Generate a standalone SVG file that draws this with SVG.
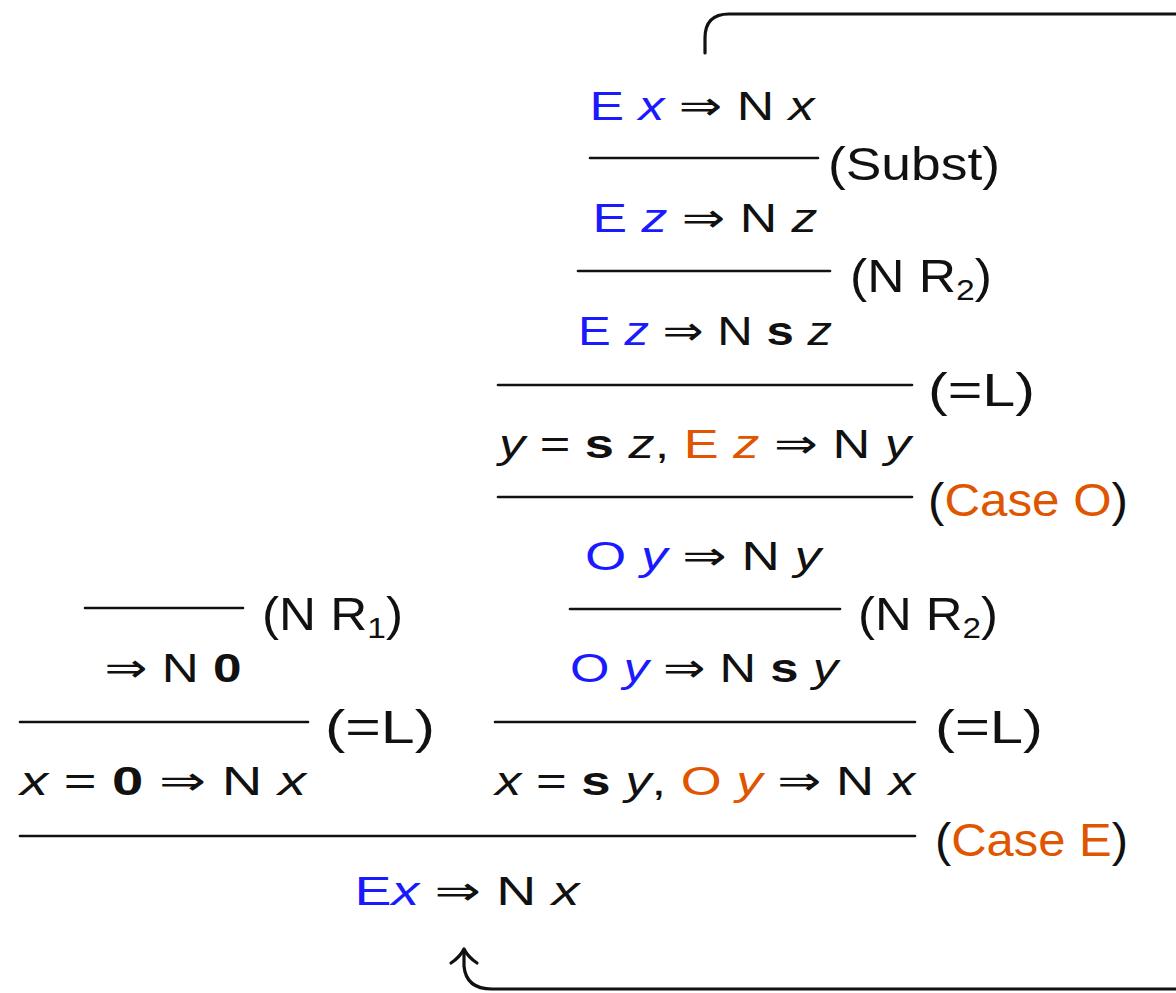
<svg xmlns="http://www.w3.org/2000/svg" width="1176" height="993" viewBox="0 0 1176 993">
<style>
text{font-family:"Liberation Sans","DejaVu Sans",sans-serif;font-size:41px;fill:#111}
.f{text-anchor:middle}
.lab{font-size:46px}
.i{font-style:italic}
.b{font-weight:bold}
.bl{fill:#1a1aff}
.or{fill:#e05500}
.sym{font-family:"DejaVu Sans",sans-serif}
.sub{font-size:30px}
.rule{stroke:#111;stroke-width:2.6;stroke-linecap:round}
.conn{fill:none;stroke:#111;stroke-width:3.2;stroke-linecap:round;stroke-linejoin:round}
</style>
<rect width="1176" height="993" fill="#fff"/>
<g id="connectors">
<path class="conn" d="M705,53 V38 Q705,14 729,14 H1200 V989 H492 Q466,989 464,966 V950"/>
<path class="conn" d="M451,963 Q460,957 464,949 Q468,957 477,963"/>
</g>
<g id="rules">
<line class="rule" x1="590" y1="158" x2="818" y2="158"/>
<line class="rule" x1="578" y1="271" x2="830" y2="271"/>
<line class="rule" x1="498" y1="385" x2="912" y2="385"/>
<line class="rule" x1="498" y1="497" x2="912" y2="497"/>
<line class="rule" x1="570" y1="609" x2="840" y2="609"/>
<line class="rule" x1="495" y1="722" x2="915" y2="722"/>
<line class="rule" x1="20" y1="836" x2="915" y2="836"/>
<line class="rule" x1="85" y1="608" x2="243" y2="608"/>
<line class="rule" x1="20" y1="722" x2="308" y2="722"/>
</g>
<g id="n1"><text class="f" x="702" y="120" textLength="225" lengthAdjust="spacingAndGlyphs"><tspan class="bl">E </tspan><tspan class="bl i">x</tspan> <tspan class="sym">⇒</tspan> N <tspan class="i">x</tspan></text></g>
<g id="l1"><text class="lab" x="828" y="180" textLength="172" lengthAdjust="spacingAndGlyphs">(Subst)</text></g>
<g id="n2"><text class="f" x="705" y="232" textLength="225" lengthAdjust="spacingAndGlyphs"><tspan class="bl">E </tspan><tspan class="bl i">z</tspan> <tspan class="sym">⇒</tspan> N <tspan class="i">z</tspan></text></g>
<g id="l2"><text class="lab" x="850" y="292" textLength="142" lengthAdjust="spacingAndGlyphs">(N R<tspan class="sub" dy="8">2</tspan><tspan dy="-8">)</tspan></text></g>
<g id="n3"><text class="f" x="705" y="345" textLength="254" lengthAdjust="spacingAndGlyphs"><tspan class="bl">E </tspan><tspan class="bl i">z</tspan> <tspan class="sym">⇒</tspan> N <tspan class="b">s</tspan> <tspan class="i">z</tspan></text></g>
<g id="l3"><text class="lab" x="928" y="406" textLength="107" lengthAdjust="spacingAndGlyphs">(=L)</text></g>
<g id="n4"><text class="f" x="705" y="458" textLength="412" lengthAdjust="spacingAndGlyphs"><tspan class="i">y</tspan> = <tspan class="b">s</tspan> <tspan class="i">z</tspan>, <tspan class="or">E </tspan><tspan class="or i">z</tspan> <tspan class="sym">⇒</tspan> N <tspan class="i">y</tspan></text></g>
<g id="l4"><text class="lab" x="928" y="516" textLength="200" lengthAdjust="spacingAndGlyphs">(<tspan class="or">Case O</tspan>)</text></g>
<g id="n5"><text class="f" x="703" y="570" textLength="236" lengthAdjust="spacingAndGlyphs"><tspan class="bl">O </tspan><tspan class="bl i">y</tspan> <tspan class="sym">⇒</tspan> N <tspan class="i">y</tspan></text></g>
<g id="l5"><text class="lab" x="858" y="630" textLength="140" lengthAdjust="spacingAndGlyphs">(N R<tspan class="sub" dy="8">2</tspan><tspan dy="-8">)</tspan></text></g>
<g id="n6"><text class="f" x="704" y="682" textLength="268" lengthAdjust="spacingAndGlyphs"><tspan class="bl">O </tspan><tspan class="bl i">y</tspan> <tspan class="sym">⇒</tspan> N <tspan class="b">s</tspan> <tspan class="i">y</tspan></text></g>
<g id="l6"><text class="lab" x="935" y="743" textLength="108" lengthAdjust="spacingAndGlyphs">(=L)</text></g>
<g id="n7"><text class="f" x="705" y="795" textLength="420" lengthAdjust="spacingAndGlyphs"><tspan class="i">x</tspan> = <tspan class="b">s</tspan> <tspan class="i">y</tspan>, <tspan class="or">O </tspan><tspan class="or i">y</tspan> <tspan class="sym">⇒</tspan> N <tspan class="i">x</tspan></text></g>
<g id="l7"><text class="lab" x="935" y="856" textLength="193" lengthAdjust="spacingAndGlyphs">(<tspan class="or">Case E</tspan>)</text></g>
<g id="n8"><text class="f" x="467" y="905" textLength="225" lengthAdjust="spacingAndGlyphs"><tspan class="bl">E</tspan><tspan class="bl i">x</tspan> <tspan class="sym">⇒</tspan> N <tspan class="i">x</tspan></text></g>
<g id="lr1"><text class="lab" x="262" y="630" textLength="141" lengthAdjust="spacingAndGlyphs">(N R<tspan class="sub" dy="8">1</tspan><tspan dy="-8">)</tspan></text></g>
<g id="ln1"><text class="f" x="173" y="682" textLength="137" lengthAdjust="spacingAndGlyphs"><tspan class="sym">⇒</tspan> N <tspan class="b">0</tspan></text></g>
<g id="lr2"><text class="lab" x="325" y="743" textLength="110" lengthAdjust="spacingAndGlyphs">(=L)</text></g>
<g id="ln2"><text class="f" x="163" y="795" textLength="286" lengthAdjust="spacingAndGlyphs"><tspan class="i">x</tspan> = <tspan class="b">0</tspan> <tspan class="sym">⇒</tspan> N <tspan class="i">x</tspan></text></g>
</svg>
